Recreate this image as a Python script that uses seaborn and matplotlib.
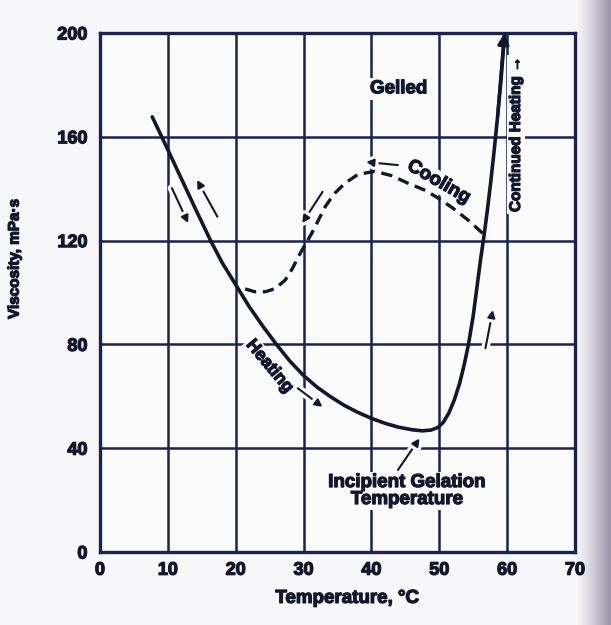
import numpy as np
import pandas as pd
import matplotlib
matplotlib.use("Agg")
import matplotlib.pyplot as plt
from matplotlib import font_manager
import matplotlib.patheffects as pe
import seaborn as sns

# ---------------- data ----------------
heat_temp = [7.7, 10, 12, 14, 16.3, 18, 20, 22, 24, 26, 28, 30, 32, 34, 36, 38, 40,
             42, 44, 46, 47.5, 48.8, 49.8, 50.6, 51.4, 52.2, 53, 53.7, 54.3, 55,
             55.6, 56.1, 56.6, 57.1, 57.6, 58.1, 58.6, 59.1, 59.6]
heat_visc = [167.7, 155, 143.8, 132.6, 120, 111.5, 103, 94.5, 87, 80, 73.5, 68,
             63.5, 59.8, 56.5, 53.8, 51.5, 49.6, 48.1, 47.1, 46.7, 47, 48, 50,
             53.5, 58.5, 65, 72.5, 80, 91, 103, 113, 122, 132, 143, 155, 168, 182, 199]

cool_temp = [56.4, 54.2, 52, 50.3, 48, 45.4, 43, 40.5, 38, 36.1, 34.5, 33.2, 31.2,
             29.5, 28.3, 27.3, 25.8, 24.4, 22.8, 20.6]
cool_visc = [122.8, 128, 132.5, 135.6, 139.3, 142.1, 145, 146.7, 145.5, 142.1, 138,
             133.1, 122.8, 115.1, 109, 104.8, 101.5, 100.3, 100.3, 102]

x_ticks = [0, 10, 20, 30, 40, 50, 60, 70]
y_ticks = [0, 40, 80, 120, 160, 200]

# direction arrows: (tail_x, tail_y, tip_x, tip_y)
arrows = [
    (10.6, 140.2, 13.0, 126.7),   # down along heating (left)
    (17.3, 129.2, 14.3, 143.4),   # up along cooling (left)
    (32.8, 138.8, 29.8, 126.7),   # cooling, near 30
    (43.9, 149.1, 39.2, 150.3),   # cooling, top
    (29.1, 63.2, 32.8, 55.9),     # heating arrow
    (56.8, 78.5, 57.9, 93.3),     # rising branch
    (43.9, 31.6, 47.1, 43.8),     # incipient gelation pointer
]

labels = [
    # text, x, y, rotation, size
    ("Gelled", 44.0, 178.5, 0, 13.5),
    ("Cooling", 49.9, 142.5, -30, 13.5),
    ("Heating", 25.0, 71.5, -50, 12.5),
    ("Continued Heating \u2192", 61.3, 161.0, 90, 11),
    ("Incipient Gelation\nTemperature", 45.2, 23.5, 0, 13.5),
]

# ---------------- style ----------------
sns.set_theme(style="white")
avail = {f.name for f in font_manager.fontManager.ttflist}
main = [f for f in ["Liberation Sans", "DejaVu Sans"] if f in avail] + ["DejaVu Sans"]
narrow = [f for f in ["Liberation Sans Narrow", "Liberation Sans", "DejaVu Sans"] if f in avail] + ["DejaVu Sans"]
plt.rcParams["font.family"] = main

NAVY = "#1b2250"
INK = "#14162c"
BG = "#fbfbfc"
heavy = [pe.withStroke(linewidth=0.9, foreground=INK)]

fig = plt.figure(figsize=(6.11, 6.25), dpi=100)
fig.patch.set_facecolor("#f8f7f9")

# scan shadow on the right edge
gax = fig.add_axes([578 / 611, 0, 33 / 611, 1])
grad = np.linspace(0, 1, 64) ** 1.2
gax.imshow(grad[np.newaxis, :], aspect="auto",
           cmap=matplotlib.colors.LinearSegmentedColormap.from_list(
               "sh", ["#f4f2f6", "#c4c0cf", "#9a96a8"]), extent=[0, 1, 0, 1])
gax.set_axis_off()

ax = fig.add_axes([100 / 611, 1 - 552 / 625, 475 / 611, (552 - 33) / 625])
ax.set_facecolor(BG)

heat_df = pd.DataFrame({"Temperature": heat_temp, "Viscosity": heat_visc})
cool_df = pd.DataFrame({"Temperature": cool_temp, "Viscosity": cool_visc})

sns.lineplot(data=heat_df, x="Temperature", y="Viscosity", sort=False, ax=ax,
             color=INK, linewidth=2.6, zorder=5)
sns.lineplot(data=cool_df, x="Temperature", y="Viscosity", sort=False, ax=ax,
             color=INK, linewidth=2.4, zorder=5)
ax.lines[0].set_solid_joinstyle("round")
ax.lines[1].set_dashes([3.4, 2.0])

# arrowhead at top of heating curve
ax.annotate("", xy=(heat_temp[-1], heat_visc[-1] + 1), xytext=(heat_temp[-3], heat_visc[-3]),
            arrowprops=dict(arrowstyle="-|>", color=INK, lw=2.4, mutation_scale=16,
                            shrinkA=0, shrinkB=0), zorder=6)

for tx, ty, hx, hy in arrows:
    ax.annotate("", xy=(hx, hy), xytext=(tx, ty),
                arrowprops=dict(arrowstyle="-|>", color=INK, lw=1.5, mutation_scale=11,
                                shrinkA=0, shrinkB=0,
                                path_effects=[pe.withStroke(linewidth=6, foreground=BG)]),
                zorder=4)

for text, x, y, rot, size in labels:
    fam = narrow if rot == 90 else main
    ax.text(x, y, text, rotation=rot, rotation_mode="anchor", ha="center", va="center",
            fontsize=size, fontweight="bold", color=INK, linespacing=1.0,
            family=fam, zorder=4, path_effects=heavy,
            bbox=dict(boxstyle="square,pad=0.12", fc=BG, ec="none"))

ax.set_xlim(0, 70)
ax.set_ylim(0, 200)
ax.set_xticks(x_ticks)
ax.set_yticks(y_ticks)
ax.grid(True, color=NAVY, linewidth=1.8, zorder=1)
ax.set_axisbelow(True)
for s in ax.spines.values():
    s.set_color(NAVY)
    s.set_linewidth(2.4)
ax.tick_params(axis="both", length=0, labelsize=13, colors=INK)
ax.tick_params(axis="x", pad=7)
ax.tick_params(axis="y", pad=9)
for lab in ax.get_xticklabels() + ax.get_yticklabels():
    lab.set_fontweight("bold")
    lab.set_path_effects(heavy)

ax.set_xlabel("Temperature, \u00b0C", fontsize=13.5, fontweight="bold", color=INK,
              path_effects=heavy)
ax.set_ylabel("Viscosity, mPa\u00b7s", fontsize=11, fontweight="bold", color=INK,
              family=narrow, path_effects=heavy)
ax.xaxis.set_label_coords(0.52, -0.073)
ax.yaxis.set_label_coords(-0.165, 0.565)

fig.savefig("out.png", dpi=100, facecolor=fig.get_facecolor())
